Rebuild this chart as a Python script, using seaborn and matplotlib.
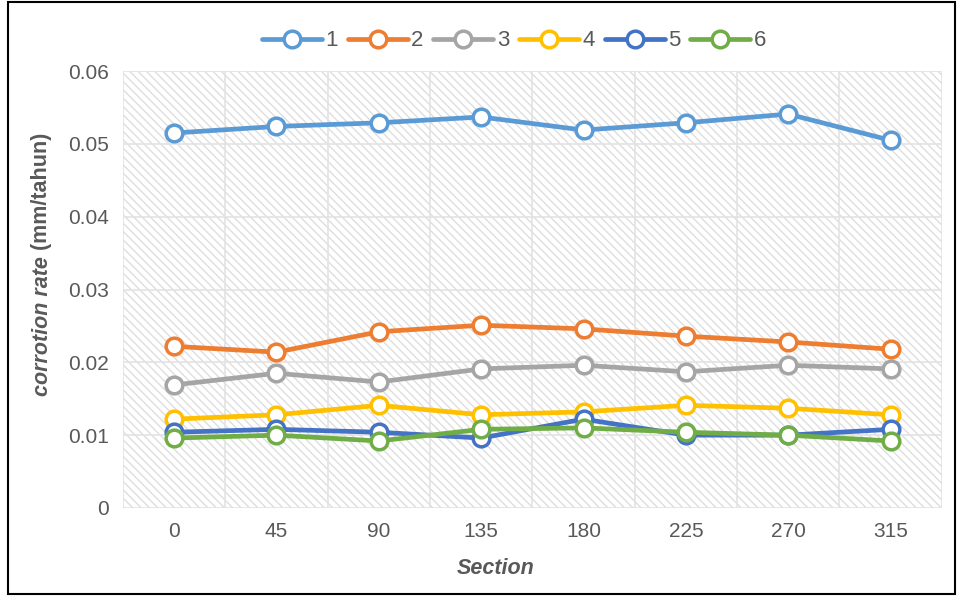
import pandas as pd
import seaborn as sns
import matplotlib.pyplot as plt
from matplotlib.patches import Rectangle
from matplotlib.lines import Line2D

sections = [0, 45, 90, 135, 180, 225, 270, 315]
series_names = ['1', '2', '3', '4', '5', '6']
s1 = [0.0515, 0.0524, 0.0529, 0.0537, 0.0519, 0.0529, 0.0541, 0.0505]
s2 = [0.0222, 0.0214, 0.0242, 0.0251, 0.0246, 0.0236, 0.0228, 0.0218]
s3 = [0.0169, 0.0185, 0.0173, 0.0191, 0.0196, 0.0187, 0.0196, 0.0191]
s4 = [0.0122, 0.0128, 0.0141, 0.0128, 0.0132, 0.0141, 0.0137, 0.0128]
s5 = [0.0104, 0.0108, 0.0104, 0.0096, 0.0122, 0.0100, 0.0100, 0.0108]
s6 = [0.0096, 0.0100, 0.0092, 0.0108, 0.0110, 0.0104, 0.0100, 0.0092]
colors = ['#5B9BD5', '#ED7D31', '#A5A5A5', '#FFC000', '#4472C4', '#70AD47']

rows = []
for name, vals in zip(series_names, [s1, s2, s3, s4, s5, s6]):
    for sec, v in zip(sections, vals):
        rows.append({'Section': sec, 'rate': v, 'series': name})
df = pd.DataFrame(rows)

sns.set_style('white')
plt.rcParams['font.family'] = ['Liberation Sans', 'DejaVu Sans']
plt.rcParams['hatch.color'] = '#DEDEDE'
plt.rcParams['hatch.linewidth'] = 1.0

fig = plt.figure(figsize=(9.57, 5.96), dpi=100)
ax = fig.add_axes([0.1285, 0.1477, 0.8555, 0.7330])

# hatched plot area like the original
ax.add_patch(Rectangle((0, 0), 1, 1, transform=ax.transAxes, facecolor='white',
                       edgecolor='#DEDEDE', hatch='\\\\\\\\', lw=0, zorder=0))

sns.lineplot(data=df, x='Section', y='rate', hue='series', palette=colors,
             marker='o', markersize=12, markerfacecolor='white', markeredgewidth=2.5,
             linewidth=3.4, ax=ax, zorder=3, legend=False)

for line, c in zip(ax.lines, colors):
    line.set_markeredgecolor(c)

ax.set_xlim(-22.5, 337.5)
ax.set_ylim(0, 0.06)
ax.set_xticks(sections)
ax.set_xticklabels([str(s) for s in sections])
ax.set_xticks([s - 22.5 for s in sections] + [337.5], minor=True)
ax.set_yticks([0, 0.01, 0.02, 0.03, 0.04, 0.05, 0.06])
ax.set_yticklabels(['0', '0.01', '0.02', '0.03', '0.04', '0.05', '0.06'])
ax.grid(False)
ax.grid(True, axis='x', which='minor', color='#E3E3E3', lw=1.2, zorder=1)
ax.grid(True, axis='y', which='major', color='#E3E3E3', lw=1.2, zorder=1)
ax.set_axisbelow(True)
ax.tick_params(axis='both', which='both', length=0, labelsize=15, labelcolor='#595959', pad=10)
for sp in ax.spines.values():
    sp.set_visible(False)
ax.set_xlabel('')
ax.set_ylabel('')

t1 = fig.text(42 / 957, 1 - 396 / 596, 'corrotion rate', rotation=90, ha='center', va='bottom',
              fontsize=15.5, fontweight='bold', fontstyle='italic', color='#595959')
ax.annotate(' (mm/tahun)', xy=(0.5, 1), xycoords=t1, rotation=90, ha='center', va='bottom',
            fontsize=15.5, fontweight='bold', color='#595959', annotation_clip=False)
fig.text(496 / 957, 1 - 569 / 596, 'Section', ha='center', va='center', fontsize=15.5,
         fontweight='bold', fontstyle='italic', color='#595959')

handles = [Line2D([], [], color=c, lw=3.4, marker='o', markersize=12,
                  markerfacecolor='white', markeredgecolor=c, markeredgewidth=2.5)
           for c in colors]
ax.legend(handles, series_names, loc='center', bbox_to_anchor=(514 / 957, 1 - 41 / 596),
          bbox_transform=fig.transFigure, ncol=6, frameon=False, fontsize=16,
          handlelength=2.7, handletextpad=0.15, columnspacing=0.45, labelcolor='#595959')

fig.add_artist(Rectangle((0.008, 0.003), 0.99, 0.994, transform=fig.transFigure,
                         fill=False, edgecolor='black', lw=1.5))

fig.savefig('out.png', dpi=100)
